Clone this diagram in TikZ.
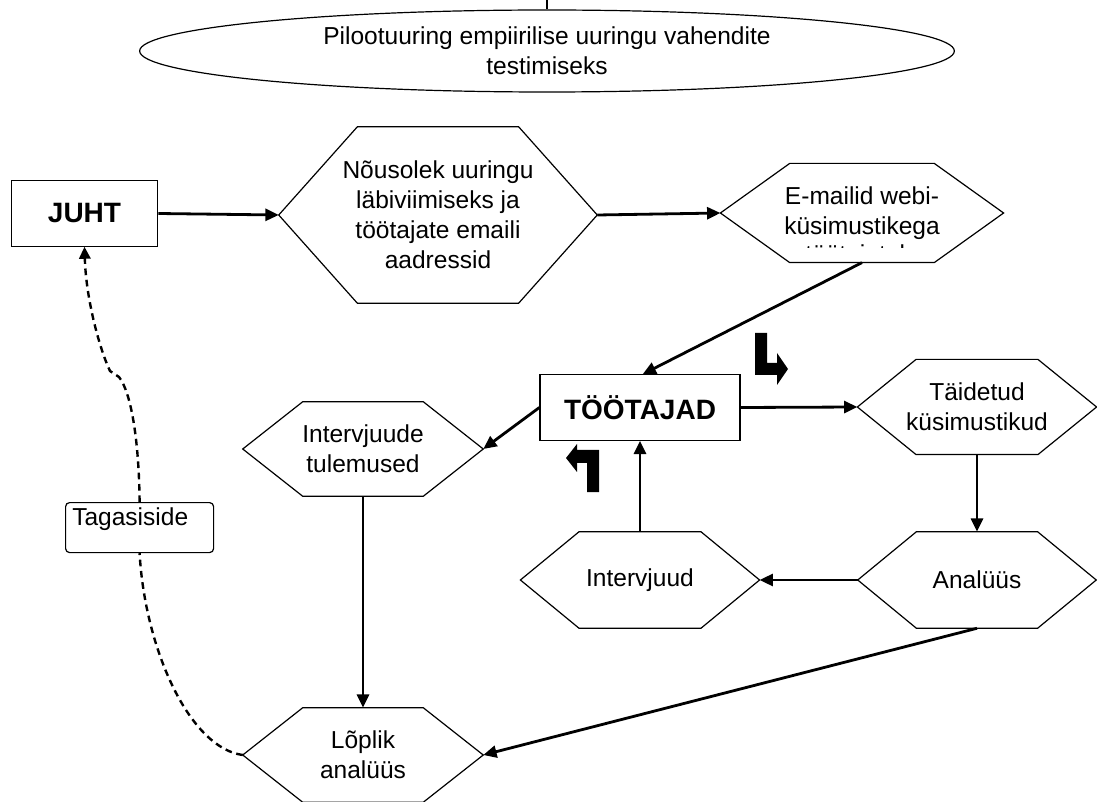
\documentclass[tikz,border=0pt]{standalone}
\usepackage{fontspec}
\setmainfont{Liberation Sans}
\usetikzlibrary{arrows.meta}
\usetikzlibrary{shapes.geometric}

% hexagon: name, x, y, width, height, slant, text
\newcommand{\Hexa}[7]{%
	\node[hexaStyle, minimum width = #4, minimum height = #5] (#1) at (#2,#3) {#7};
	\draw[hexaLine] (#1.west) -- ([xshift = #6]#1.north west) -- ([xshift = -#6]#1.north east)
		-- (#1.east) -- ([xshift = -#6]#1.south east) -- ([xshift = #6]#1.south west) -- cycle;}

\begin{document}
\begin{tikzpicture}[x = 0.75pt, y = -0.75pt, font = \fontsize{18.4}{22.5}\selectfont]
	\tikzstyle{hexaStyle} = [shape = rectangle, inner sep = 0pt, align = center]
	\tikzstyle{hexaLine} = [line width = 0.9pt, line join = miter]
	\tikzstyle{boxStyle} = [shape = rectangle, draw, line width = 0.9pt, inner sep = 0pt, font = \fontsize{21}{25}\selectfont\bfseries]
	\tikzstyle{tagStyle} = [shape = rectangle, draw, line width = 0.9pt, rounded corners = 3pt, anchor = north west, align = left, text width = 101pt, inner xsep = 5pt, inner ysep = 3pt, text height = 14pt, text depth = 17.5pt]
	\tikzstyle{arrowStyle} = [line width = 2.1pt, -{Triangle[length = 10pt, width = 9pt]}]
	\tikzstyle{dashStyle} = [line width = 1.8pt, dash pattern = on 5pt off 3.5pt]
	\tikzstyle{feedbackStyle} = [dashStyle, -{Triangle[length = 9pt, width = 8.5pt]}]
	\useasboundingbox (0,0) rectangle (1097,802);
	\node[ellipse, draw, line width = 0.9pt, minimum width = 611pt, minimum height = 61.5pt, inner sep = 0pt, align = center] (pilot) at (547,51) {Pilootuuring empiirilise uuringu vahendite\\testimiseks};
	\coordinate (tick) at (547,0);
	\node[boxStyle, minimum width = 110pt, minimum height = 49pt] (juht) at (84.5,213.5) {JUHT};
	\node[boxStyle, minimum width = 150pt, minimum height = 49pt] (tootajad) at (640,407.5) {TÖÖTAJAD};
	\node[tagStyle] (tagasi) at (65,502) {Tagasiside};
	\Hexa{nous}{438}{215}{238.5pt}{132pt}{59pt}{Nõusolek uuringu\\läbiviimiseks ja\\töötajate emaili\\aadressid}
	\Hexa{email}{862}{213}{212pt}{74pt}{52pt}{E-mailid webi-\\küsimustikega}
	\Hexa{taid}{977}{407}{179pt}{71pt}{44pt}{Täidetud\\küsimustikud}
	\Hexa{tulem}{363}{449}{180pt}{70.5pt}{45pt}{Intervjuude\\tulemused}
	\Hexa{analyys}{977}{580}{178.5pt}{72pt}{44pt}{Analüüs}
	\Hexa{intervjuud}{640}{580}{179pt}{72pt}{44pt}{Intervjuud}
	\Hexa{lopl}{363}{755}{180pt}{70.5pt}{45pt}{Lõplik\\analüüs}
	%\node (emailrest) ... third line cut off by the text frame
	\begin{scope}
		\clip (790,240) rectangle (935,248);
		\node[hexaStyle, anchor = base] (emailrest) at (862,263) {töötajatele};
	\end{scope}
	\draw[line width = 0.9pt] (pilot.north) -- (tick);
	\draw[arrowStyle] (juht.east) -- (nous.west);
	\draw[arrowStyle] (nous.east) -- (email.west);
	\draw[arrowStyle] (email.south) -- ([xshift = 2pt]tootajad.north);
	\draw[arrowStyle] (tootajad.west) -- (tulem.east);
	\draw[arrowStyle] (tootajad.east) -- (taid.west);
	\draw[arrowStyle] (taid.south) -- (analyys.north);
	\draw[arrowStyle] (analyys.west) -- (intervjuud.east);
	\draw[arrowStyle] (intervjuud.north) -- (tootajad.south);
	\draw[arrowStyle] (tulem.south) -- (lopl.north);
	\draw[arrowStyle] (analyys.south) -- (lopl.east);
	\coordinate (k1) at (119,377);
	\coordinate (k2) at (110,371);
	\draw[feedbackStyle] (tagasi.north) .. controls (139,440) and (131,392) .. (k1) -- (k2) .. controls (100,350) and (86,300) .. (juht.south);
	\draw[dashStyle] (lopl.west) .. controls (190,748) and (145,650) .. (tagasi.south);
	% turn signs
	\fill (755,333) -- (767,333) -- (767,363) -- (777,363) -- (777,353) -- (788,369) -- (777,385) -- (777,375) -- (755,375) -- cycle;
	\fill (566,458) -- (577,444) -- (577,450) -- (599,450) -- (599,492) -- (587,492) -- (587,463) -- (577,463) -- (577,472) -- cycle;
\end{tikzpicture}
\end{document}
